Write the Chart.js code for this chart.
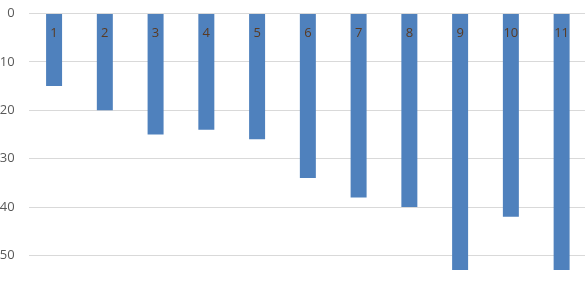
<!DOCTYPE html>
<html>
<head>
<meta charset="utf-8">
<script src="https://cdn.jsdelivr.net/npm/chart.js@4.4.0/dist/chart.umd.min.js"></script>
<style>
  html, body { margin: 0; padding: 0; background: #fff; overflow: hidden; }
  #chart { position: absolute; left: -15px; top: 0; }
</style>
</head>
<body>
<canvas id="chart" width="603" height="283"></canvas>
<script>
"use strict";
// data
const categories = ["1", "2", "3", "4", "5", "6", "7", "8", "9", "10", "11"];
const values = [15, 20, 25, 24, 26, 34, 38, 40, 53, 42, 53];
const yTicks = [0, 10, 20, 30, 40, 50];

// category labels sit just under the 0 line, inside the bars
const catLabels = {
  id: "catLabels",
  afterDatasetsDraw: function (chart) {
    const c = chart.ctx;
    const xs = chart.scales.x;
    const ys = chart.scales.y;
    c.save();
    c.font = "13px 'Open Sans'";
    c.fillStyle = "#5A3A22";
    c.textAlign = "center";
    c.textBaseline = "middle";
    categories.forEach(function (lab, i) {
      c.fillText(lab, xs.getPixelForValue(i), ys.getPixelForValue(0) + 19.5);
    });
    c.restore();
  }
};

const ctx = document.getElementById("chart");
const myChart = new Chart(ctx, {
  type: "bar",
  data: {
    labels: categories,
    datasets: [{
      data: values,
      backgroundColor: "#4F81BD",
      borderWidth: 0
    }]
  },
  options: {
    responsive: false,
    animation: false,
    layout: { padding: { top: 13.5, right: 1, bottom: 3.3, left: 0 } },
    plugins: { legend: { display: false }, tooltip: { enabled: false } },
    datasets: { bar: { categoryPercentage: 1, barPercentage: 0.315 } },
    scales: {
      x: { display: false },
      y: {
        reverse: true,
        min: 0,
        max: 55,
        afterBuildTicks: function (scale) {
          scale.ticks = yTicks.map(function (v) { return { value: v }; });
        },
        afterFit: function (scale) {
          scale.width = 43.7;
          scale.paddingTop = 0;
          scale.paddingBottom = 0;
        },
        grid: { color: "#D9D9D9", drawTicks: false },
        border: { display: false },
        ticks: {
          padding: 14,
          color: "#595959",
          font: { family: "Open Sans", size: 13 }
        }
      }
    }
  },
  plugins: [catLabels]
});
</script>
</body>
</html>
